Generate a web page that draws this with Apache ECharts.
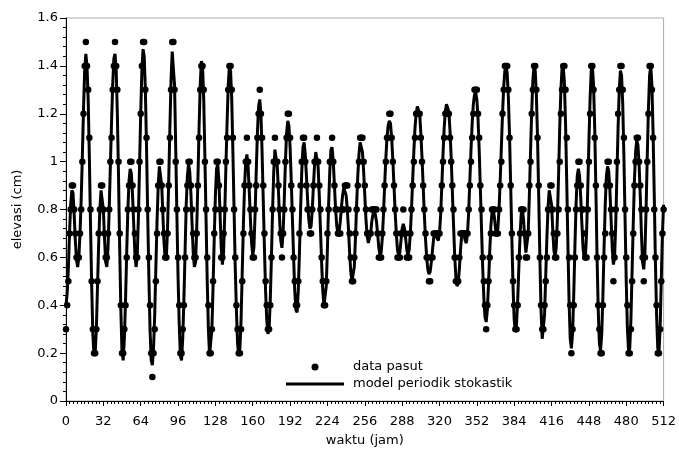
<!DOCTYPE html>
<html>
<head>
<meta charset="utf-8">
<script src="https://cdn.jsdelivr.net/npm/echarts@6/dist/echarts.min.js"></script>
<style>
  html, body { margin: 0; padding: 0; background: #fff; }
  #chart { width: 679px; height: 452px; }
</style>
</head>
<body>
<div id="chart"></div>
<script>
// data pasut (per jam, 0..512)
let dataPasut = [
  0.3,0.4,0.5,0.7,0.8,0.9,0.9,0.8,0.7,0.6,0.6,0.6,
  0.7,0.8,1.0,1.2,1.4,1.5,1.4,1.3,1.1,0.8,0.5,0.3,
  0.2,0.2,0.3,0.5,0.7,0.8,0.9,0.9,0.8,0.7,0.6,0.6,
  0.7,0.8,1.0,1.1,1.3,1.4,1.5,1.4,1.3,1.0,0.7,0.4,
  0.2,0.2,0.3,0.4,0.6,0.8,0.9,1.0,1.0,0.9,0.8,0.7,
  0.6,0.6,0.8,1.0,1.2,1.4,1.5,1.5,1.3,1.1,0.8,0.6,
  0.4,0.2,0.1,0.2,0.3,0.5,0.7,0.9,1.0,1.0,0.9,0.8,
  0.7,0.6,0.6,0.7,0.9,1.1,1.3,1.5,1.5,1.3,1.0,0.8,
  0.6,0.4,0.2,0.2,0.3,0.4,0.6,0.8,0.9,1.0,1.0,0.9,
  0.8,0.7,0.6,0.6,0.7,0.9,1.1,1.3,1.4,1.4,1.3,1.0,
  0.8,0.6,0.4,0.2,0.2,0.3,0.5,0.7,0.8,1.0,1.0,0.9,
  0.8,0.6,0.6,0.7,0.8,1.0,1.1,1.3,1.4,1.4,1.3,1.1,
  0.8,0.6,0.4,0.3,0.2,0.2,0.3,0.5,0.7,0.9,1.0,1.1,
  1.0,0.9,0.8,0.7,0.6,0.6,0.8,0.9,1.1,1.2,1.3,1.2,
  1.1,0.9,0.7,0.5,0.4,0.3,0.3,0.4,0.6,0.8,1.0,1.1,
  1.0,1.0,0.9,0.8,0.7,0.6,0.7,0.8,1.0,1.1,1.2,1.2,
  1.1,0.9,0.8,0.6,0.5,0.4,0.4,0.5,0.7,0.9,1.0,1.1,
  1.1,1.0,0.9,0.8,0.8,0.7,0.7,0.8,0.9,1.0,1.0,1.1,
  1.0,0.9,0.8,0.6,0.5,0.4,0.4,0.5,0.7,0.8,1.0,1.0,
  1.1,1.0,0.9,0.8,0.8,0.7,0.7,0.7,0.8,0.8,0.8,0.9,
  0.9,0.9,0.8,0.7,0.6,0.5,0.5,0.6,0.7,0.8,0.9,1.0,
  1.1,1.1,1.1,1.0,0.9,0.8,0.7,0.7,0.7,0.7,0.8,0.8,
  0.8,0.8,0.8,0.7,0.6,0.6,0.6,0.7,0.8,0.9,1.0,1.1,
  1.1,1.2,1.2,1.1,1.0,0.9,0.8,0.7,0.6,0.6,0.6,0.7,
  0.7,0.8,0.7,0.7,0.6,0.6,0.6,0.7,0.8,0.9,1.0,1.1,
  1.2,1.2,1.2,1.2,1.1,1.0,0.9,0.8,0.7,0.6,0.6,0.5,
  0.5,0.6,0.6,0.7,0.7,0.7,0.7,0.7,0.7,0.8,0.9,1.0,
  1.1,1.2,1.2,1.2,1.2,1.1,1.0,0.9,0.8,0.6,0.5,0.5,
  0.5,0.6,0.7,0.7,0.7,0.7,0.7,0.7,0.7,0.8,0.9,1.0,
  1.1,1.2,1.3,1.3,1.3,1.2,1.1,0.9,0.8,0.6,0.5,0.4,
  0.3,0.4,0.5,0.6,0.7,0.8,0.8,0.8,0.7,0.7,0.7,0.8,
  0.9,1.0,1.2,1.3,1.4,1.4,1.4,1.3,1.1,0.9,0.7,0.5,
  0.4,0.3,0.3,0.4,0.6,0.7,0.8,0.8,0.8,0.7,0.6,0.6,
  0.7,0.9,1.0,1.2,1.3,1.4,1.4,1.3,1.1,0.9,0.6,0.4,
  0.3,0.3,0.4,0.5,0.6,0.8,0.8,0.9,0.9,0.8,0.7,0.6,
  0.6,0.7,0.8,1.0,1.2,1.3,1.4,1.4,1.3,1.1,0.8,0.6,
  0.4,0.2,0.3,0.4,0.6,0.8,0.9,1.0,1.0,0.9,0.8,0.8,
  0.7,0.6,0.6,0.8,1.0,1.2,1.4,1.4,1.3,1.1,0.9,0.6,
  0.4,0.3,0.2,0.2,0.4,0.6,0.7,0.9,1.0,1.0,0.9,0.8,
  0.7,0.5,0.6,0.8,1.0,1.2,1.3,1.4,1.4,1.3,1.1,0.8,
  0.6,0.4,0.2,0.2,0.3,0.5,0.7,0.9,1.0,1.1,1.1,1.0,
  0.9,0.8,0.6,0.5,0.6,0.8,1.0,1.2,1.4,1.4,1.3,1.1,
  0.8,0.6,0.4,0.2,0.2,0.3,0.5,0.7,0.8
]

// model periodik stokastik (per jam, 0..512)
let modelPeriodik = [
  0.40,0.45,0.55,0.70,0.82,0.88,0.87,0.78,0.67,0.59,0.56,0.60,
  0.70,0.84,1.02,1.22,1.38,1.45,1.40,1.26,1.02,0.74,0.48,0.28,
  0.19,0.20,0.30,0.48,0.66,0.80,0.88,0.88,0.80,0.68,0.58,0.56,
  0.64,0.80,0.98,1.16,1.32,1.43,1.45,1.38,1.20,0.94,0.64,0.38,
  0.20,0.17,0.26,0.42,0.62,0.80,0.92,0.97,0.95,0.86,0.74,0.62,
  0.56,0.60,0.76,0.98,1.20,1.38,1.47,1.44,1.30,1.06,0.78,0.52,
  0.30,0.17,0.15,0.22,0.36,0.56,0.75,0.90,0.98,0.98,0.90,0.78,
  0.66,0.59,0.60,0.72,0.92,1.14,1.34,1.46,1.46,1.32,1.06,0.78,
  0.52,0.32,0.19,0.17,0.26,0.42,0.62,0.82,0.94,0.99,0.96,0.87,
  0.74,0.62,0.56,0.58,0.72,0.92,1.14,1.32,1.42,1.40,1.26,1.02,
  0.76,0.50,0.30,0.19,0.19,0.30,0.48,0.68,0.86,0.97,0.99,0.92,
  0.78,0.64,0.57,0.62,0.78,0.98,1.16,1.32,1.40,1.38,1.26,1.04,
  0.80,0.56,0.38,0.24,0.19,0.22,0.34,0.54,0.74,0.90,1.00,1.03,
  0.98,0.88,0.76,0.66,0.61,0.64,0.78,0.96,1.12,1.23,1.26,1.20,
  1.04,0.84,0.64,0.46,0.34,0.28,0.30,0.42,0.60,0.80,0.96,1.05,
  1.05,0.98,0.88,0.76,0.67,0.64,0.70,0.84,1.00,1.12,1.17,1.15,
  1.06,0.92,0.76,0.60,0.46,0.38,0.37,0.46,0.62,0.80,0.96,1.06,
  1.08,1.03,0.94,0.84,0.76,0.72,0.73,0.80,0.90,0.99,1.04,1.04,
  0.98,0.86,0.72,0.58,0.46,0.40,0.40,0.48,0.64,0.82,0.96,1.05,
  1.06,1.00,0.90,0.80,0.73,0.70,0.71,0.75,0.81,0.86,0.89,0.89,
  0.86,0.80,0.72,0.62,0.54,0.50,0.50,0.56,0.68,0.82,0.94,1.03,
  1.08,1.08,1.04,0.96,0.86,0.76,0.69,0.66,0.66,0.70,0.75,0.78,
  0.79,0.78,0.75,0.70,0.64,0.61,0.62,0.68,0.78,0.90,1.01,1.10,
  1.15,1.17,1.16,1.10,1.01,0.90,0.79,0.70,0.63,0.61,0.62,0.67,
  0.72,0.74,0.72,0.68,0.63,0.61,0.63,0.70,0.80,0.92,1.04,1.14,
  1.20,1.23,1.23,1.20,1.12,1.02,0.90,0.78,0.68,0.60,0.55,0.53,
  0.54,0.58,0.63,0.68,0.70,0.70,0.68,0.67,0.70,0.78,0.90,1.03,
  1.14,1.21,1.24,1.24,1.21,1.13,1.02,0.88,0.74,0.61,0.52,0.48,
  0.49,0.55,0.63,0.69,0.71,0.70,0.67,0.66,0.70,0.79,0.92,1.05,
  1.16,1.24,1.28,1.29,1.26,1.18,1.05,0.89,0.72,0.56,0.43,0.35,
  0.33,0.38,0.49,0.62,0.73,0.79,0.80,0.77,0.72,0.70,0.72,0.80,
  0.92,1.06,1.20,1.31,1.38,1.40,1.37,1.27,1.11,0.90,0.68,0.48,
  0.34,0.29,0.32,0.42,0.56,0.69,0.78,0.80,0.76,0.68,0.62,0.62,
  0.70,0.86,1.04,1.21,1.34,1.40,1.38,1.28,1.10,0.86,0.60,0.38,
  0.26,0.26,0.36,0.52,0.68,0.81,0.88,0.88,0.82,0.72,0.63,0.60,
  0.64,0.76,0.94,1.14,1.30,1.39,1.40,1.33,1.16,0.92,0.66,0.42,
  0.26,0.22,0.28,0.44,0.64,0.82,0.94,0.97,0.94,0.85,0.74,0.64,
  0.59,0.60,0.70,0.88,1.08,1.26,1.38,1.40,1.32,1.14,0.88,0.60,
  0.38,0.24,0.21,0.28,0.44,0.64,0.82,0.94,0.98,0.96,0.88,0.76,
  0.64,0.57,0.60,0.74,0.94,1.14,1.30,1.38,1.36,1.24,1.02,0.76,
  0.50,0.30,0.21,0.22,0.34,0.54,0.74,0.92,1.04,1.09,1.07,0.99,
  0.86,0.70,0.58,0.55,0.62,0.80,1.02,1.22,1.36,1.40,1.32,1.12,
  0.86,0.58,0.36,0.22,0.20,0.30,0.50,0.70,0.82
]

let xTicks = [0, 32, 512]     // min, interval, max
let yTicks = [0, 0.2, 1.6]    // min, interval, max

let font = 'DejaVu Sans'

let pasutPairs = dataPasut.map(function (v, i) { return [i, v] })
let modelPairs = modelPeriodik.map(function (v, i) { return [i, v] })

let myecharts = echarts.init(document.getElementById('chart'))
let option = {
  animation: false,
  backgroundColor: '#fff',
  grid: {
    left: 66,
    top: 18,
    width: 600,
    height: 384,
    show: true,
    borderColor: '#aaa',
    borderWidth: 1
  },
  legend: {
    orient: 'vertical',
    left: 286,
    top: 360,
    padding: 0,
    itemWidth: 58,
    itemHeight: 7,
    itemGap: 3,
    textStyle: { fontFamily: font, fontSize: 13, color: '#000', lineHeight: 14, padding: [0, 0, 0, 4] },
    data: [
      { name: 'data pasut', icon: 'circle' },
      { name: 'model periodik stokastik', icon: 'path://M0,0 L58,0 L58,2.8 L0,2.8 Z' }
    ]
  },
  xAxis: {
    type: 'value',
    min: xTicks[0],
    max: xTicks[2],
    interval: xTicks[1],
    name: 'waktu (jam)',
    nameLocation: 'middle',
    nameGap: 33,
    nameTextStyle: { fontFamily: font, fontSize: 13, color: '#000' },
    axisLine: { show: true, lineStyle: { color: '#000', width: 1 } },
    axisTick: { show: true, length: 5, lineStyle: { color: '#000' } },
    minorTick: { show: true, splitNumber: 10, length: 3, lineStyle: { color: '#000' } },
    axisLabel: { fontFamily: font, fontSize: 13, color: '#000', margin: 14 },
    splitLine: { show: false }
  },
  yAxis: {
    type: 'value',
    min: yTicks[0],
    max: yTicks[2],
    interval: yTicks[1],
    name: 'elevasi (cm)',
    nameLocation: 'middle',
    nameGap: 42,
    nameTextStyle: { fontFamily: font, fontSize: 13, color: '#000' },
    axisLine: { show: true, lineStyle: { color: '#000', width: 1 } },
    axisTick: { show: true, length: 6, lineStyle: { color: '#000' } },
    minorTick: { show: true, splitNumber: 5, length: 3, lineStyle: { color: '#000' } },
    axisLabel: { fontFamily: font, fontSize: 13, color: '#000', margin: 8 },
    splitLine: { show: false }
  },
  series: [
    {
      name: 'model periodik stokastik',
      type: 'line',
      data: modelPairs,
      symbol: 'none',
      lineStyle: { color: '#000', width: 3 },
      itemStyle: { color: '#000' },
      z: 2
    },
    {
      name: 'data pasut',
      type: 'scatter',
      data: pasutPairs,
      symbol: 'circle',
      symbolSize: 6.5,
      itemStyle: { color: '#000', opacity: 1 },
      z: 3
    }
  ]
}
myecharts.setOption(option)
</script>
</body>
</html>
